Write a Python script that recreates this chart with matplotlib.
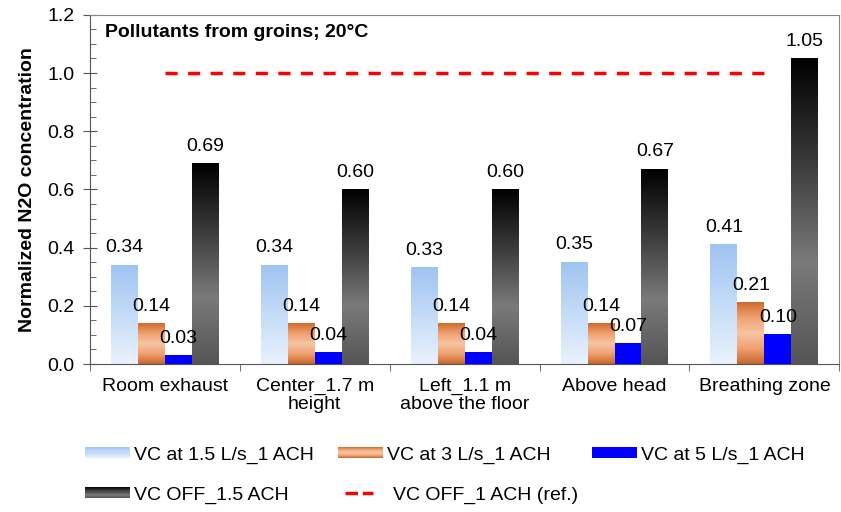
import numpy as np
import matplotlib.pyplot as plt
from matplotlib.colors import LinearSegmentedColormap
from matplotlib.patches import Rectangle
from matplotlib.lines import Line2D
from matplotlib.legend_handler import HandlerBase

plt.rcParams['font.family'] = ['Liberation Sans', 'DejaVu Sans']

locations = ["Room exhaust", "Center_1.7 m\nheight", "Left_1.1 m\nabove the floor",
             "Above head", "Breathing zone"]
vc_15 = [0.34, 0.34, 0.33, 0.35, 0.41]
vc_3 = [0.14, 0.14, 0.14, 0.14, 0.21]
vc_5 = [0.03, 0.04, 0.04, 0.07, 0.10]
vc_off = [0.69, 0.60, 0.60, 0.67, 1.05]
ref_level = 1.0

series_labels = ["VC at 1.5 L/s_1 ACH", "VC at 3 L/s_1 ACH", "VC at 5 L/s_1 ACH", "VC OFF_1.5 ACH"]
ref_label = "VC OFF_1 ACH (ref.)"

# gradients, bottom -> top
cmap_blue = LinearSegmentedColormap.from_list("lb", ["#eaf2fd", "#9fc4f1"])
cmap_orange = LinearSegmentedColormap.from_list("or", ["#c8652a", "#f0a070", "#f6c6a4", "#f0a070", "#d06a2c"])
cmap_solid = LinearSegmentedColormap.from_list("bl", ["#0000ff", "#0000ff"])
cmap_black = LinearSegmentedColormap.from_list("bk", ["#555555", "#7a7a7a", "#3a3a3a", "#000000"])
cmaps = [cmap_blue, cmap_orange, cmap_solid, cmap_black]

fig = plt.figure(figsize=(8.41, 5.12), dpi=100)
ax = fig.add_axes([0.107, 0.289, 0.891, 0.682])

x = np.arange(len(locations))
w = 0.18
grad = np.linspace(0, 1, 256).reshape(-1, 1)
all_series = [vc_15, vc_3, vc_5, vc_off]
for i, (vals, cm) in enumerate(zip(all_series, cmaps)):
    offs = (i - 1.5) * w
    for xi, v in zip(x, vals):
        x0 = xi + offs - w / 2
        ax.imshow(grad, extent=[x0, x0 + w, 0, v], origin='lower', cmap=cm,
                  aspect='auto', zorder=2)
        ax.text(xi + offs, v + 0.03, f"{v:.2f}", ha='center', va='bottom', fontsize=14)

ax.plot([x[0], x[-1]], [ref_level, ref_level], color='#ff0000', lw=2.5,
        dashes=(3.5, 3.0), zorder=3)

ax.set_xlim(-0.5, 4.5)
ax.set_ylim(0, 1.2)
ax.set_xticks(x)
ax.set_xticklabels(locations, fontsize=14, linespacing=1.1)
ax.set_xticks(np.arange(-0.5, 4.6, 1), minor=True)
ax.tick_params(axis='x', which='major', length=0, pad=10)
ax.tick_params(axis='x', which='minor', length=5, color='#555555')
yt = np.arange(0, 1.21, 0.2)
ax.set_yticks(yt)
ax.set_yticklabels([f"{t:.1f}" for t in yt], fontsize=14)
ax.set_yticks(np.arange(0, 1.21, 0.05), minor=True)
ax.tick_params(axis='y', which='major', direction='inout', length=10, color='#555555', pad=6)
ax.tick_params(axis='y', which='minor', direction='in', length=4, color='#555555')
for s in ax.spines.values():
    s.set_color('#888888')
    s.set_linewidth(0.8)
ax.spines['left'].set_color('#555555')
ax.spines['bottom'].set_color('#555555')
ax.set_ylabel("Normalized N2O concentration", fontsize=14, fontweight='bold', labelpad=8)
ax.text(0.02, 0.975, "Pollutants from groins; 20°C", transform=ax.transAxes,
        fontsize=14, fontweight='bold', va='top')


class GradHandler(HandlerBase):
    def __init__(self, cmap):
        super().__init__()
        self.cmap = cmap

    def create_artists(self, legend, orig_handle, xdescent, ydescent, width, height, fontsize, trans):
        arts = []
        n = 10
        for k in range(n):
            r = Rectangle((-xdescent, -ydescent + height * k / n), width, height / n + 0.3,
                          facecolor=self.cmap((k + 0.5) / n), edgecolor='none', transform=trans)
            arts.append(r)
        return arts


handles = [Rectangle((0, 0), 1, 1) for _ in range(4)]
hmap = {h: GradHandler(c) for h, c in zip(handles, cmaps)}
ref_handle = Line2D([], [], color='#ff0000', lw=2.5, dashes=(3.6, 1.4))

# legend entries laid out like a grid (pixel anchors / figure size)
spots = [(85, 455), (338, 455), (592, 455), (85, 495)]
for h, lab, (px, py) in zip(handles, series_labels, spots):
    fig.legend([h], [lab], handler_map=hmap, loc='center left',
               bbox_to_anchor=(px / 841, 1 - py / 512), frameon=False, fontsize=14,
               handlelength=2.3, handleheight=0.5, handletextpad=0.2, borderpad=0,
               borderaxespad=0)
fig.legend([ref_handle], [ref_label], loc='center left',
           bbox_to_anchor=(345 / 841, 1 - 495 / 512), frameon=False, fontsize=14,
           handlelength=1.45, handletextpad=1.0, borderpad=0, borderaxespad=0)

fig.savefig("out.png", dpi=100)
